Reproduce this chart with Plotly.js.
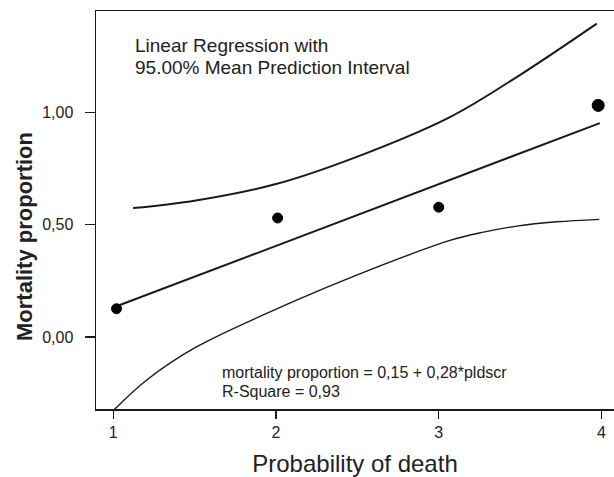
<!DOCTYPE html>
<html>
<head>
<meta charset="utf-8">
<script src="https://cdn.plot.ly/plotly-3.0.1.min.js"></script>
<style>html,body{margin:0;padding:0;background:#fff;}#chart{width:614px;height:477px;}</style>
</head>
<body>
<div id="chart"></div>
<script>
// Observed data points
var pointX = [1.02, 2.01, 3.0, 3.98];
var pointY = [0.126, 0.53, 0.578, 1.031];

// Fitted regression line
var fitX = [1.02, 3.99];
var fitY = [0.137, 0.952];

// Upper 95% mean prediction interval
var upperX = [1.122, 1.508, 2.0, 2.492, 3.069, 3.479, 3.971];
var upperY = [0.574, 0.608, 0.681, 0.801, 0.979, 1.157, 1.395];

// Lower 95% mean prediction interval
var lowerX = [1.006, 1.202, 1.508, 2.123, 2.492, 3.069, 3.275, 3.479, 3.725, 3.987];
var lowerY = [-0.323, -0.193, -0.045, 0.163, 0.275, 0.43, 0.467, 0.494, 0.513, 0.524];

var xTicks = [1, 2, 3, 4];
var yTicks = [0, 0.5, 1];

var ink = '#1a1a1a';
var W = 614, H = 477, L = 96, T = 11, B = 68, R = 0;
function px(x) { return (x - L) / (W - L - R); }
function py(y) { return (H - B - y) / (H - T - B); }

var traces = [
  {x: upperX, y: upperY, mode: 'lines', line: {color: ink, width: 2, shape: 'spline', smoothing: 1}, hoverinfo: 'skip'},
  {x: lowerX, y: lowerY, mode: 'lines', line: {color: ink, width: 1.4, shape: 'spline', smoothing: 1}, hoverinfo: 'skip'},
  {x: fitX, y: fitY, mode: 'lines', line: {color: ink, width: 2}, hoverinfo: 'skip'},
  {x: pointX, y: pointY, mode: 'markers', marker: {color: '#000000', opacity: 1, size: [10, 10, 10, 12], line: {width: 1, color: '#000000'}}}
];

var layout = {
  width: W, height: H,
  margin: {l: L, r: R, t: T, b: B},
  paper_bgcolor: '#fff', plot_bgcolor: '#fff',
  showlegend: false,
  separators: ',.',
  font: {family: 'Liberation Sans, Arial, sans-serif', color: '#222'},
  xaxis: {
    range: [0.894, 4.077],
    tickvals: xTicks,
    ticktext: xTicks.map(String),
    ticks: 'outside', ticklen: 8, tickwidth: 1.5, tickcolor: ink,
    showline: true, linecolor: ink, linewidth: 1.5, mirror: true,
    showgrid: false, zeroline: false,
    tickfont: {size: 16, color: '#222'},
    title: {text: 'Probability of death', font: {size: 24, color: '#222'}, standoff: 17}
  },
  yaxis: {
    range: [-0.320, 1.451],
    tickvals: yTicks,
    tickformat: '.2f',
    ticks: 'outside', ticklen: 10, tickwidth: 1.5, tickcolor: ink,
    ticklabelstandoff: 8,
    showline: true, linecolor: ink, linewidth: 1.5, mirror: false,
    showgrid: false, zeroline: false,
    tickfont: {size: 16, color: '#222'}
  },
  annotations: [
    {xref: 'paper', yref: 'paper', x: px(24), y: py(237), text: '<b>Mortality proportion</b>', textangle: -90,
     showarrow: false, xanchor: 'center', yanchor: 'middle', font: {size: 22, color: '#222'}},
    {xref: 'paper', yref: 'paper', x: px(134), y: py(45.5), text: 'Linear Regression with',
     showarrow: false, xanchor: 'left', yanchor: 'middle', borderpad: 0, font: {size: 19, color: '#222'}},
    {xref: 'paper', yref: 'paper', x: px(134), y: py(67), text: '95.00% Mean Prediction Interval',
     showarrow: false, xanchor: 'left', yanchor: 'middle', borderpad: 0, font: {size: 19, color: '#222'}},
    {xref: 'paper', yref: 'paper', x: px(220), y: py(372), text: 'mortality proportion = 0,15 + 0,28*pldscr',
     showarrow: false, xanchor: 'left', yanchor: 'middle', font: {size: 16, color: '#222'}},
    {xref: 'paper', yref: 'paper', x: px(220), y: py(391), text: 'R-Square = 0,93',
     showarrow: false, xanchor: 'left', yanchor: 'middle', font: {size: 16, color: '#222'}}
  ]
};

Plotly.newPlot('chart', traces, layout, {displayModeBar: false, staticPlot: true});
</script>
</body>
</html>
